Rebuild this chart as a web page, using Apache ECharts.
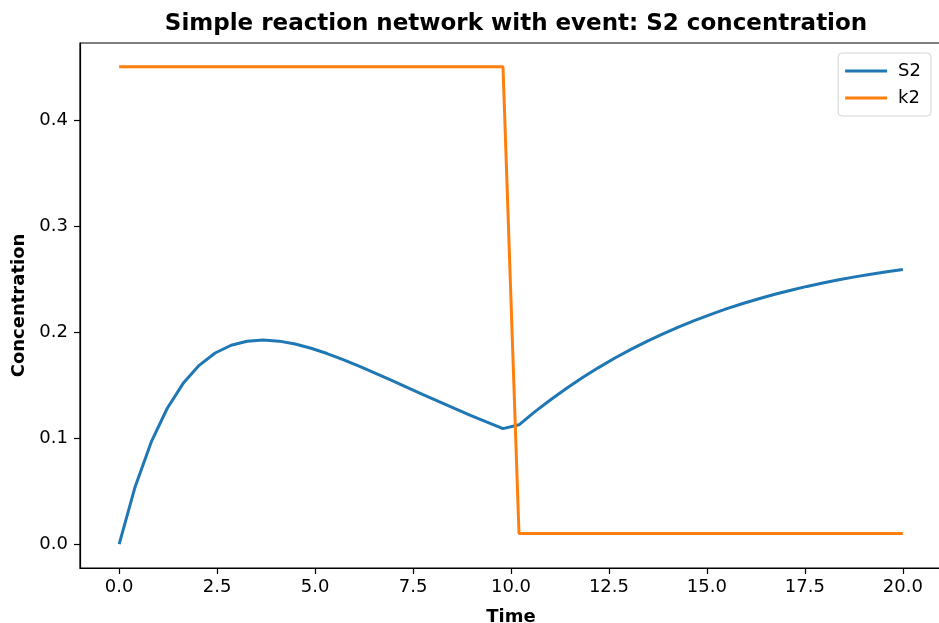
<!DOCTYPE html>
<html>
<head>
<meta charset="utf-8">
<script src="https://cdn.jsdelivr.net/npm/echarts@6/dist/echarts.min.js"></script>
<style>
html,body{margin:0;padding:0;background:#fff;}
#c{width:939px;height:623px;}
</style>
</head>
<body>
<div id="c"></div>
<script>
const time = [0, 0.408, 0.816, 1.224, 1.633, 2.041, 2.449, 2.857, 3.265, 3.673,
  4.082, 4.490, 4.898, 5.306, 5.714, 6.122, 6.531, 6.939, 7.347, 7.755,
  8.163, 8.571, 8.980, 9.388, 9.796, 10.204, 10.612, 11.020, 11.429, 11.837,
  12.245, 12.653, 13.061, 13.469, 13.878, 14.286, 14.694, 15.102, 15.510, 15.918,
  16.327, 16.735, 17.143, 17.551, 17.959, 18.367, 18.776, 19.184, 19.592, 20.0];
const s2 = [0, 0.0542, 0.0961, 0.1279, 0.1516, 0.1686, 0.1802, 0.1875, 0.1913, 0.1925,
  0.1914, 0.1887, 0.1847, 0.1797, 0.1740, 0.1678, 0.1613, 0.1546, 0.1478, 0.1410,
  0.1343, 0.1277, 0.1212, 0.1150, 0.1089, 0.1125, 0.1249, 0.1364, 0.1472, 0.1573,
  0.1667, 0.1755, 0.1836, 0.1912, 0.1983, 0.2049, 0.2110, 0.2167, 0.2220, 0.2269,
  0.2314, 0.2356, 0.2394, 0.2430, 0.2462, 0.2492, 0.2520, 0.2545, 0.2568, 0.2589];
const k2 = [0.45, 0.45, 0.45, 0.45, 0.45, 0.45, 0.45, 0.45, 0.45, 0.45,
  0.45, 0.45, 0.45, 0.45, 0.45, 0.45, 0.45, 0.45, 0.45, 0.45,
  0.45, 0.45, 0.45, 0.45, 0.45, 0.01, 0.01, 0.01, 0.01, 0.01,
  0.01, 0.01, 0.01, 0.01, 0.01, 0.01, 0.01, 0.01, 0.01, 0.01,
  0.01, 0.01, 0.01, 0.01, 0.01, 0.01, 0.01, 0.01, 0.01, 0.01];
const xTicks = [0, 2.5, 5, 7.5, 10, 12.5, 15, 17.5, 20];
const yTicks = [0, 0.1, 0.2, 0.3, 0.4];
const titleText = 'Simple reaction network with event: S2 concentration';

const font = 'DejaVu Sans';
const pair = (ys) => time.map((t, i) => [t, ys[i]]);

const chart = echarts.init(document.getElementById('c'), null, {renderer: 'canvas'});
chart.setOption({
  animation: false,
  backgroundColor: '#ffffff',
  title: {
    text: titleText,
    left: 511, top: 8, textAlign: 'center',
    textStyle: {fontFamily: font, fontWeight: 'bold', fontSize: 23, color: '#000'}
  },
  grid: {left: 80, right: -3, top: 43, bottom: 55, containLabel: false,
    outerBoundsMode: 'none',
    show: true, borderColor: '#000', borderWidth: 1.2, backgroundColor: 'transparent'},
  legend: {
    orient: 'vertical', right: 8, top: 53,
    padding: [9, 10, 9, 7],
    itemWidth: 42, itemHeight: 3, itemGap: 9,
    icon: 'rect',
    backgroundColor: 'rgba(255,255,255,0.8)',
    borderColor: '#d5d5d5', borderWidth: 1, borderRadius: 4,
    textStyle: {fontFamily: font, fontSize: 18, color: '#000', padding: [0, 0, 0, 6]},
    data: ['S2', 'k2']
  },
  xAxis: {
    type: 'value', min: -1, max: 21,
    name: 'Time', nameLocation: 'middle', nameGap: 40,
    nameTextStyle: {fontFamily: font, fontWeight: 'bold', fontSize: 18, color: '#000'},
    axisLine: {onZero: false, lineStyle: {color: '#000', width: 1.2}},
    axisTick: {show: true, length: 6, lineStyle: {color: '#000', width: 1.2}, customValues: xTicks},
    axisLabel: {fontFamily: font, fontSize: 18, color: '#000', margin: 10,
      customValues: xTicks, formatter: v => v.toFixed(1)},
    splitLine: {show: false}
  },
  yAxis: {
    type: 'value', min: -0.0225, max: 0.4725,
    name: 'Concentration', nameLocation: 'middle', nameGap: 52,
    nameTextStyle: {fontFamily: font, fontWeight: 'bold', fontSize: 18, color: '#000'},
    axisLine: {show: true, onZero: false, lineStyle: {color: '#000', width: 1.2}},
    axisTick: {show: true, length: 6, lineStyle: {color: '#000', width: 1.2}, customValues: yTicks},
    axisLabel: {fontFamily: font, fontSize: 18, color: '#000', margin: 12,
      customValues: yTicks, formatter: v => v.toFixed(1)},
    splitLine: {show: false}
  },
  series: [
    {name: 'S2', type: 'line', data: pair(s2), showSymbol: false, symbol: 'none',
      lineStyle: {color: '#1f77b4', width: 3}, itemStyle: {color: '#1f77b4'}},
    {name: 'k2', type: 'line', data: pair(k2), showSymbol: false, symbol: 'none',
      lineStyle: {color: '#ff7f0e', width: 3}, itemStyle: {color: '#ff7f0e'}}
  ]
});
</script>
</body>
</html>
